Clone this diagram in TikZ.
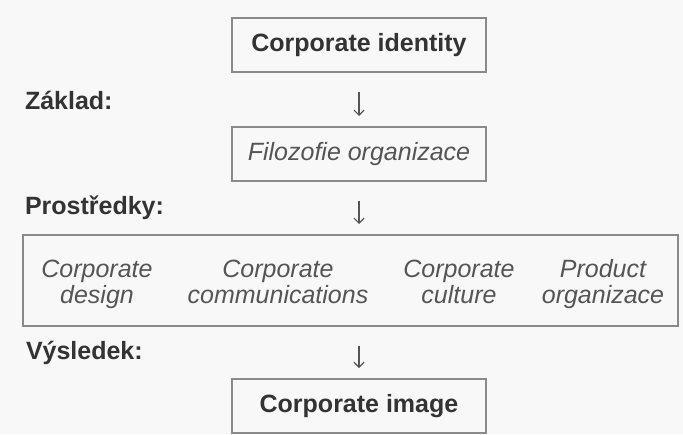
\documentclass[tikz,border=0pt]{standalone}
\usepackage{fontspec}
\setmainfont{Liberation Sans}
\usetikzlibrary{arrows.meta}
\definecolor{inkdark}{HTML}{333333}
\definecolor{inksoft}{HTML}{555555}
\definecolor{frame}{HTML}{8A8A8A}
\definecolor{paper}{HTML}{F8F8F8}
% equal line boxes so every two-line item sits on the same baselines
\newcommand\linestrut{\rule[-7pt]{0pt}{26pt}}
\begin{document}
\begin{tikzpicture}[x=1pt,y=-1pt,
  every node/.style={inner sep=0pt, outer sep=0pt},
  stagebox/.style={draw=frame, line width=1.3pt, minimum width=254pt, minimum height=54pt},
  boldtext/.style={font=\fontsize{25}{26}\selectfont\bfseries, text=inkdark},
  softtext/.style={font=\fontsize{25}{26}\selectfont\itshape, text=inksoft},
  sidelabel/.style={boldtext, anchor=west},
  item/.style={softtext, align=center},
  flow/.style={draw=inksoft, line width=1.2pt, -{Straight Barb[length=5pt,width=10pt]},
               shorten <=20pt, shorten >=11pt}
]
  % page
  \fill[paper] (0,0) rectangle (683,434);
  \useasboundingbox (0,0) rectangle (683,434);

  % stages
  \node[stagebox, boldtext] (identity) at (359,45) {Corporate identity};
  \node[stagebox, softtext] (filozofie) at (359,154) {Filozofie organizace};
  \node[draw=frame, line width=1.3pt, minimum width=655pt, minimum height=91pt] (means) at (350.5,280.5) {};
  \node[stagebox, boldtext] (image) at (359,406) {Corporate image};

  % the four means
  \node[item] (design) at (97,284) {Corporate\linestrut\\design\linestrut};
  \node[item] (comm) at (278,284) {Corporate\linestrut\\communications\linestrut};
  \node[item] (culture) at (459,284) {Corporate\linestrut\\culture\linestrut};
  \node[item] (product) at (603,284) {Product\linestrut\\organizace\linestrut};

  % stage labels
  \node[sidelabel] (zaklad) at (25,100) {Základ:};
  \node[sidelabel] (prostredky) at (25,208) {Prostředky:};
  \node[sidelabel] (vysledek) at (26,353) {Výsledek:};

  % flow arrows
  \coordinate (meansTop) at (359,235);
  \coordinate (meansBottom) at (359,326);
  \draw[flow] (identity.south) -- (filozofie.north);
  \draw[flow] (filozofie.south) -- (meansTop);
  \draw[flow] (meansBottom) -- (image.north);
\end{tikzpicture}
\end{document}
